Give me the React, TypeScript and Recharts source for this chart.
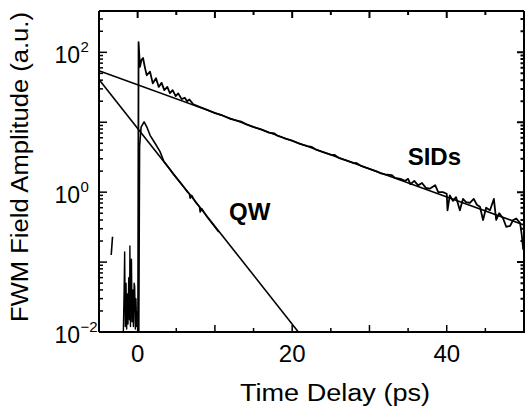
import React from 'react';
import { ComposedChart, Line, XAxis, YAxis, ReferenceDot } from 'recharts';

const FONT = '"Liberation Sans", Arial, Helvetica, sans-serif';

// ---- axis definitions ----
const xDomain = [-5, 50];
const xTicks = [0, 5, 10, 15, 20, 25, 30, 35, 40, 45];
const xLabels = [0, 20, 40];
const yDomain = [0.01, 390];
const yDecades = [0.01, 0.1, 1, 10, 100];
const yMultipliers = [1, 2, 3, 4, 5, 6, 7, 8, 9];
const yLabelValues = [100, 1, 0.01];
const yLabelExps = ['2', '0', '\u22122'];

// ---- SIDs measured trace ----
const sidsT = [0.05, 0.12, 0.3, 0.5, 0.7, 0.95, 1.18, 1.6, 1.96, 2.38, 2.73, 3.1, 3.45, 3.84, 4.18, 4.53, 4.92, 5.25, 5.7, 6.1, 6.4, 6.7, 7.2, 8, 9, 10, 11, 12, 13, 13.4, 14, 15, 16, 17, 17.7, 18, 19, 20, 21, 22, 22.5, 23, 24, 25, 25.5, 26, 27, 28, 28.3, 29, 30, 31, 31.5, 32, 32.9, 33.3, 34, 34.6, 35, 35.3, 35.8, 36.3, 36.8, 37.3, 37.8, 38.5, 38.9, 39.5, 40.0, 40.1, 40.4, 40.8, 41.2, 41.7, 42.1, 42.5, 43.0, 43.5, 43.9, 44.3, 44.7, 45.1, 45.6, 46.1, 46.4, 46.8, 47.3, 47.7, 48.2, 48.6, 49.0, 49.5, 49.7, 49.9];
const sidsV = [0.01, 140, 62, 78, 83, 60, 47, 53, 36, 42.5, 32, 36.6, 28.8, 32, 26, 28.8, 23.7, 25.9, 21.4, 22.4, 20, 21.2, 18.0, 16.6, 15.0, 13.5, 12.5, 11.2, 10.5, 10.2, 9.4, 8.5, 7.9, 7.1, 6.9, 6.5, 5.9, 5.45, 4.9, 4.55, 4.45, 4.1, 3.75, 3.45, 3.4, 3.1, 2.85, 2.6, 2.62, 2.35, 2.15, 1.97, 1.85, 1.8, 1.75, 1.6, 1.55, 1.45, 1.55, 1.3, 1.45, 1.25, 1.35, 1.15, 1.12, 1.26, 1.0, 1.0, 0.95, 0.55, 0.9, 0.75, 0.85, 0.55, 0.8, 0.72, 0.7, 0.8, 0.66, 0.62, 0.4, 0.6, 0.55, 0.8, 0.4, 0.5, 0.42, 0.32, 0.33, 0.4, 0.42, 0.36, 0.25, 0.15];

// ---- QW measured trace ----
const qwT = [0.15, 0.25, 0.45, 0.84, 1.18, 1.61, 2.25, 2.9, 3.4, 4.0, 4.6, 5.2, 5.8, 6.4, 6.7, 6.8, 7.0, 7.5, 8.0, 8.1, 8.3, 9.0, 9.8, 10.5];
const qwV = [0.01, 4.5, 8.5, 10.1, 8.6, 6.5, 5.0, 3.8, 2.75, 2.25, 1.82, 1.5, 1.25, 1.02, 0.95, 0.82, 0.9, 0.72, 0.62, 0.52, 0.58, 0.44, 0.34, 0.27];

// ---- background noise before zero delay ----
const noiseT = [-1.85, -1.75, -1.68, -1.6, -1.5, -1.42, -1.35, -1.25, -1.15, -1.05, -1.0, -0.93, -0.85, -0.8, -0.72, -0.62, -0.55, -0.45, -0.38, -0.3, -0.22, -0.12, -0.05];
const noiseV = [0.01, 0.04, 0.14, 0.012, 0.05, 0.011, 0.035, 0.013, 0.06, 0.015, 0.17, 0.012, 0.045, 0.11, 0.014, 0.04, 0.012, 0.05, 0.045, 0.011, 0.03, 0.012, 0.02];
const strayT = [-3.42, -3.25];
const strayV = [0.126, 0.23];

// ---- exponential fits (straight lines on log scale) ----
const sidsFitT = [-5, 50];
const sidsFitV = [54.4, 0.34];
const qwFitT = [-5, 20.8];
const qwFitV = [41, 0.01];

const zip = (t: number[], v: number[]) => t.map((tt, i) => ({ t: tt, v: v[i] }));
const sidsData = zip(sidsT, sidsV);
const qwData = zip(qwT, qwV);
const noiseData = zip(noiseT, noiseV);
const strayData = zip(strayT, strayV);
const sidsFit = zip(sidsFitT, sidsFitV);
const qwFit = zip(qwFitT, qwFitV);

const yTicks = yDecades
  .flatMap((d) => yMultipliers.map((m) => +(d * m).toPrecision(3)))
  .filter((v) => v <= yDomain[1]);

const isDecade = (v: number) => {
  const lg = Math.log10(v);
  return Math.abs(lg - Math.round(lg)) < 1e-6;
};

// chart geometry (page has margin 0)
const CHART_W = 526;
const CHART_H = 414;
const M_TOP = 11;
const Y_AXIS_W = 99;
const X_AXIS_H = 82;
const M_RIGHT = 2;
const PLOT_W = CHART_W - Y_AXIS_W - M_RIGHT;
const PLOT_H = CHART_H - M_TOP - X_AXIS_H;
const pxPerUnitX = PLOT_W / (xDomain[1] - xDomain[0]);
const pxPerDecade = PLOT_H / Math.log10(yDomain[1] / yDomain[0]);

// top frame edge with inward ticks (drawn through the chart's own scales)
const topFrame = [
  { t: xDomain[0], v: yDomain[1] },
  ...xTicks.flatMap((t) => {
    const f = Math.pow(10, (t % 10 === 0 ? 7 : 4) / pxPerDecade);
    return [
      { t, v: yDomain[1] },
      { t, v: yDomain[1] / f },
      { t, v: yDomain[1] },
    ];
  }),
  { t: xDomain[1], v: yDomain[1] },
];
// right frame edge with inward ticks
const rightFrame = [
  { t: xDomain[1], v: yDomain[1] },
  ...[...yTicks].reverse().flatMap((v) => {
    const d = (isDecade(v) ? 7 : 3.5) / pxPerUnitX;
    return [
      { t: xDomain[1], v },
      { t: xDomain[1] - d, v },
      { t: xDomain[1], v },
    ];
  }),
  { t: xDomain[1], v: yDomain[0] },
];

const XTick = (props: any) => {
  const { x, y, payload } = props;
  const v = payload.value;
  const len = v % 10 === 0 ? 7 : 4;
  return (
    <g>
      <line x1={x} x2={x} y1={y} y2={y - len} stroke="#000" strokeWidth={1.5} />
      {xLabels.includes(v) && (
        <text x={x} y={y + 30} textAnchor="middle" fontSize={24} fontFamily={FONT} fill="#000">
          {v}
        </text>
      )}
    </g>
  );
};

const YTick = (props: any) => {
  const { x, y, payload } = props;
  const v = payload.value;
  const len = isDecade(v) ? 8 : 4;
  const li = yLabelValues.findIndex((lv) => Math.abs(lv - v) / lv < 1e-6);
  return (
    <g>
      <line x1={x} x2={x + len} y1={y} y2={y} stroke="#000" strokeWidth={1.5} />
      {li >= 0 && (
        <g>
          <text x={x - 19} y={y + 11} textAnchor="end" fontSize={23} fontFamily={FONT} fill="#000">
            10
          </text>
          <text x={x - 18.5} y={y} textAnchor="start" fontSize={15} fontFamily={FONT} fill="#000">
            {yLabelExps[li]}
          </text>
        </g>
      )}
    </g>
  );
};

const axisLine = { stroke: '#000', strokeWidth: 2 };

const lineProps = {
  xAxisId: 'b',
  yAxisId: 'l',
  dataKey: 'v',
  stroke: '#000',
  dot: false,
  activeDot: false,
  isAnimationActive: false,
  type: 'linear' as const,
  strokeLinejoin: 'round' as const,
};

const textLabel = (txt: string) => (p: any) => (
  <text
    x={p.viewBox.x + p.viewBox.width / 2}
    y={p.viewBox.y + p.viewBox.height / 2 + 9}
    textAnchor="middle"
    fontSize={24}
    fontWeight="bold"
    fontFamily={FONT}
    fill="#000"
  >
    {txt}
  </text>
);

export default function App() {
  return (
    <div style={{ width: CHART_W, height: CHART_H, overflow: 'hidden' }}>
      <style>{'html,body{margin:0;padding:0;overflow:hidden;background:#fff;}'}</style>
      <ComposedChart width={CHART_W} height={CHART_H} margin={{ top: M_TOP, right: M_RIGHT, bottom: 0, left: 0 }}>
        <XAxis
          xAxisId="b"
          type="number"
          dataKey="t"
          domain={xDomain}
          ticks={xTicks}
          interval={0}
          tickSize={0}
          tickMargin={0}
          height={X_AXIS_H}
          axisLine={axisLine}
          tick={(p: any) => <XTick {...p} />}
          label={{
            content: () => (
              <text
                x={335}
                y={401}
                textAnchor="middle"
                fontSize={23}
                textLength={190}
                lengthAdjust="spacingAndGlyphs"
                fontFamily={FONT}
                fill="#000"
              >
                Time Delay (ps)
              </text>
            ),
          }}
        />
        <YAxis
          yAxisId="l"
          type="number"
          scale="log"
          domain={yDomain}
          ticks={yTicks}
          interval={0}
          tickSize={0}
          tickMargin={0}
          width={Y_AXIS_W}
          axisLine={axisLine}
          tick={(p: any) => <YTick {...p} />}
          label={{
            content: () => (
              <text
                x={28}
                y={167}
                transform="rotate(-90, 28, 167)"
                textAnchor="middle"
                fontSize={23}
                textLength={310}
                lengthAdjust="spacingAndGlyphs"
                fontFamily={FONT}
                fill="#000"
              >
                FWM Field Amplitude (a.u.)
              </text>
            ),
          }}
        />
        <Line {...lineProps} data={topFrame} strokeWidth={2} strokeLinejoin="miter" />
        <Line {...lineProps} data={rightFrame} strokeWidth={2} strokeLinejoin="miter" />
        <Line {...lineProps} data={sidsFit} strokeWidth={1.6} />
        <Line {...lineProps} data={qwFit} strokeWidth={1.6} />
        <Line {...lineProps} data={noiseData} strokeWidth={1.4} />
        <Line {...lineProps} data={strayData} strokeWidth={1.6} />
        <Line {...lineProps} data={qwData} strokeWidth={1.6} />
        <Line {...lineProps} data={sidsData} strokeWidth={1.8} />
        <ReferenceDot xAxisId="b" yAxisId="l" x={38.4} y={3.27} r={1} fill="none" stroke="none" label={{ content: textLabel('SIDs') }} />
        <ReferenceDot xAxisId="b" yAxisId="l" x={14.5} y={0.533} r={1} fill="none" stroke="none" label={{ content: textLabel('QW') }} />
      </ComposedChart>
    </div>
  );
}
